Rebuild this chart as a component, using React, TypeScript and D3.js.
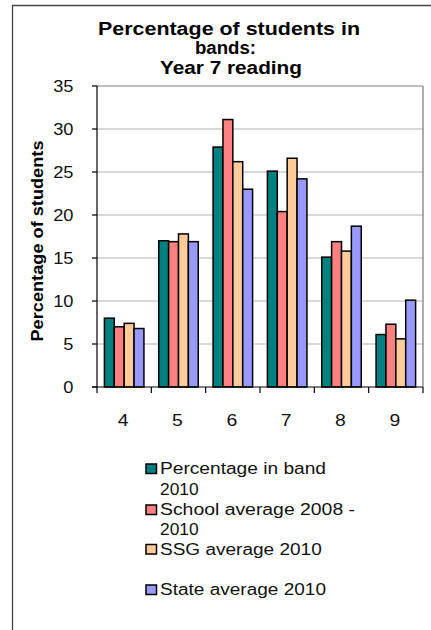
import React from "react";
import * as d3 from "d3";

// Bands shown on the x axis
const bands = ["4", "5", "6", "7", "8", "9"];

// Percentage of students per band, one array per series
const bandPct2010 = [8.0, 17.0, 27.9, 25.1, 15.1, 6.1];
const schoolAvg0810 = [7.0, 16.9, 31.1, 20.4, 16.9, 7.3];
const ssgAvg2010 = [7.4, 17.8, 26.2, 26.6, 15.8, 5.6];
const stateAvg2010 = [6.8, 16.9, 23.0, 24.2, 18.7, 10.1];

const seriesNames = [
  "Percentage in band 2010",
  "School average 2008 - 2010",
  "SSG average 2010",
  "State average 2010",
];
const seriesColors = ["#008080", "#ff8080", "#ffcc99", "#9999ff"];

const yTicks = [0, 5, 10, 15, 20, 25, 30, 35];

const titleLines = ["Percentage of students in", "bands:", "Year 7 reading"];
const yTitle = "Percentage of students";

// Legend rows: text lines per entry (wrapped as in the chart)
const legendLines = [
  ["Percentage in band", "2010"],
  ["School average 2008 -", "2010"],
  ["SSG average 2010"],
  ["State average 2010"],
];

const W = 431;
const H = 630;
const plot = { left: 97, right: 423, top: 86, bottom: 387 };
const FONT = "'Liberation Sans', Arial, sans-serif";

export default function App() {
  const series = [bandPct2010, schoolAvg0810, ssgAvg2010, stateAvg2010];

  const x = d3
    .scaleBand<string>()
    .domain(bands)
    .range([plot.left, plot.right])
    .paddingInner(0)
    .paddingOuter(0);

  const xInner = d3
    .scaleBand<number>()
    .domain(d3.range(series.length))
    .range([0, x.bandwidth()])
    .paddingInner(0)
    .paddingOuter(0.75);

  const y = d3.scaleLinear().domain([0, 35]).range([plot.bottom, plot.top]);

  const boundaries = bands.map((b) => x(b)!).concat([plot.right]);

  // title / legend text placement
  const titleLayout = [
    { cx: 229, y: 34.5, w: 262 },
    { cx: 225.5, y: 54, w: 61 },
    { cx: 231, y: 74, w: 142 },
  ];
  const legendRows = [
    { base: [474, 495], w: [166, 38.6] },
    { base: [515, 535], w: [195, 38.6] },
    { base: [554.5], w: [161.7] },
    { base: [595], w: [166] },
  ];

  return (
    <svg
      width={W}
      height={H}
      style={{ position: "absolute", left: 0, top: 0, background: "#fff" }}
      fontFamily={FONT}
    >
      <rect x={0} y={0} width={W} height={H} fill="#fff" />
      {/* outer chart frame */}
      <path d={`M12.5,${H} V5.5 H${W}`} fill="none" stroke="#444" strokeWidth={1.3} />

      {/* title */}
      {titleLines.map((t, i) => (
        <text
          key={t}
          x={titleLayout[i].cx}
          y={titleLayout[i].y}
          textAnchor="middle"
          fontWeight="bold"
          fontSize={17.5}
          textLength={titleLayout[i].w}
          lengthAdjust="spacingAndGlyphs"
          fill="#000"
        >
          {t}
        </text>
      ))}

      {/* gridlines */}
      {yTicks
        .filter((t) => t > 0)
        .map((t) => (
          <line
            key={t}
            x1={plot.left}
            x2={plot.right}
            y1={y(t)}
            y2={y(t)}
            stroke={t === 35 ? "#808080" : "#b4b4b4"}
            strokeWidth={1.2}
          />
        ))}
      {/* plot area right border */}
      <line x1={plot.right} x2={plot.right} y1={plot.top} y2={plot.bottom} stroke="#808080" strokeWidth={1.3} />

      {/* bars */}
      {series.map((vals, si) =>
        vals.map((v, ci) => {
          const bx = x(bands[ci])! + xInner(si)!;
          return (
            <rect
              key={`${si}-${ci}`}
              x={bx}
              y={y(v)}
              width={xInner.bandwidth()}
              height={y(0) - y(v)}
              fill={seriesColors[si]}
              stroke="#000"
              strokeWidth={1.5}
            />
          );
        })
      )}

      {/* y axis */}
      <line x1={plot.left} x2={plot.left} y1={plot.top} y2={plot.bottom} stroke="#000" strokeWidth={1.2} />
      {yTicks.map((t) => (
        <g key={t}>
          <line x1={plot.left - 5} x2={plot.left} y1={y(t)} y2={y(t)} stroke="#000" strokeWidth={1.2} />
          <text
            transform={`translate(73.5,${y(t) + 5.8}) scale(1.14,1)`}
            textAnchor="end"
            fontSize={16}
            fill="#111"
          >
            {t}
          </text>
        </g>
      ))}

      {/* x axis */}
      <line x1={plot.left - 5} x2={plot.right} y1={plot.bottom} y2={plot.bottom} stroke="#000" strokeWidth={1.2} />
      {boundaries.map((bx, i) => (
        <line key={i} x1={bx} x2={bx} y1={plot.bottom} y2={plot.bottom + 6} stroke="#000" strokeWidth={1.2} />
      ))}
      {bands.map((b) => (
        <text
          key={b}
          transform={`translate(${x(b)! + x.bandwidth() / 2 - 1},426) scale(1.14,1)`}
          textAnchor="middle"
          fontSize={17}
          fill="#111"
        >
          {b}
        </text>
      ))}

      {/* y axis title */}
      <text
        transform="translate(43,241) rotate(-90)"
        textAnchor="middle"
        fontWeight="bold"
        fontSize={17}
        textLength={201}
        lengthAdjust="spacingAndGlyphs"
        fill="#000"
      >
        {yTitle}
      </text>

      {/* legend */}
      {legendLines.map((lines, i) => (
        <g key={seriesNames[i]}>
          <rect
            x={146}
            y={legendRows[i].base[0] - 10}
            width={10.5}
            height={9.5}
            fill={seriesColors[i]}
            stroke="#000"
            strokeWidth={1.5}
          />
          {lines.map((ln, j) => (
            <text
              key={j}
              x={160}
              y={legendRows[i].base[j]}
              fontSize={16}
              textLength={legendRows[i].w[j]}
              lengthAdjust="spacingAndGlyphs"
              fill="#111"
            >
              {ln}
            </text>
          ))}
        </g>
      ))}
    </svg>
  );
}
